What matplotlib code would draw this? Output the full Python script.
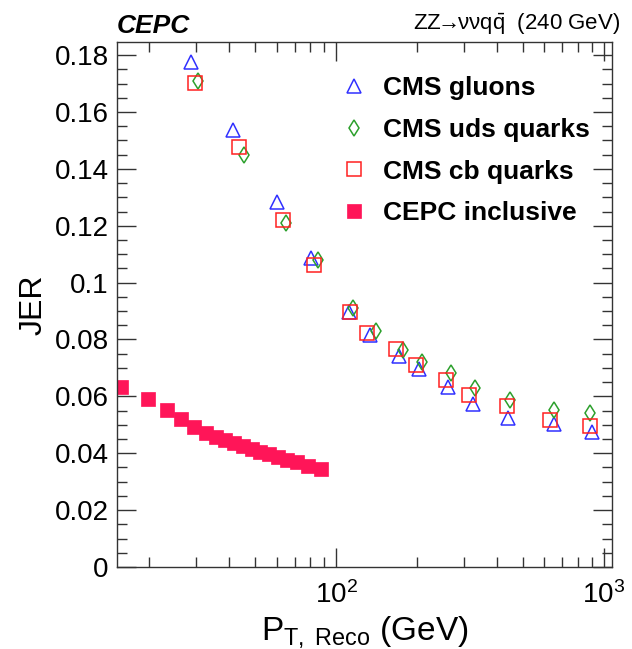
import numpy as np
import matplotlib
matplotlib.use("Agg")
import matplotlib.pyplot as plt
from matplotlib.ticker import MultipleLocator, LogLocator, NullFormatter

plt.rcParams['font.family'] = ['Liberation Sans', 'DejaVu Sans']
plt.rcParams['mathtext.fontset'] = 'custom'
plt.rcParams['mathtext.rm'] = 'Liberation Sans'
plt.rcParams['mathtext.it'] = 'Liberation Sans:italic'
plt.rcParams['mathtext.bf'] = 'Liberation Sans:bold'

# CMS gluons
glu_pt = [28.8, 41.3, 60.1, 80.9, 112, 134, 172, 204, 262, 324, 440, 653, 900]
glu_jer = [0.1777, 0.1538, 0.1285, 0.1086, 0.0896, 0.0816, 0.0741, 0.0696,
           0.0634, 0.0573, 0.0525, 0.0503, 0.0474]

# CMS uds quarks
uds_pt = [30.4, 45.5, 65.1, 85.9, 116, 140.6, 177.4, 209.4, 268, 329, 445.6, 650, 891]
uds_jer = [0.1708, 0.1449, 0.1209, 0.1079, 0.0910, 0.0831, 0.0763, 0.0722,
           0.0681, 0.0628, 0.0587, 0.0552, 0.0543]

# CMS cb quarks
cb_pt = [29.7, 43.4, 63.2, 82.8, 112.8, 130.2, 167, 198.9, 256.4, 314, 435.6, 631, 887]
cb_jer = [0.1701, 0.1478, 0.1220, 0.1061, 0.0898, 0.0822, 0.0767, 0.0710,
          0.0658, 0.0605, 0.0567, 0.0517, 0.0497]

# CEPC inclusive
cepc_pt = [15.8, 19.9, 23.3, 26.4, 29.5, 32.6, 35.6, 38.5, 41.6, 45.0, 48.5,
           52.2, 56.0, 60.5, 65.5, 71.5, 78.5, 88.0]
cepc_jer = [0.0634, 0.0591, 0.0553, 0.0521, 0.0494, 0.0470, 0.0457, 0.0447,
            0.0436, 0.0427, 0.0415, 0.0405, 0.0398, 0.0388, 0.0378, 0.0368,
            0.0356, 0.0344]

fig = plt.figure(figsize=(6.32, 6.49), dpi=100)
ax = fig.add_axes([0.185, 0.1263, 0.783, 0.809])

ax.plot(glu_pt, glu_jer, linestyle='none', marker='^', ms=10, mfc='none',
        mec='#3030ff', mew=1.1, label='CMS gluons')
ax.plot(uds_pt, uds_jer, linestyle='none', marker='d', ms=8, mfc='none',
        mec='#2ca02c', mew=1.1, label='CMS uds quarks')
ax.plot(cb_pt, cb_jer, linestyle='none', marker='s', ms=10, mfc='none',
        mec='#ff2020', mew=1.1, label='CMS cb quarks')
ax.plot(cepc_pt, cepc_jer, linestyle='none', marker='s', ms=9.5, mfc='#ff1558',
        mec='#ff1558', mew=0.5, label='CEPC inclusive')

ax.set_xscale('log')
ax.set_xlim(15.2, 1070)
ax.set_ylim(0, 0.1846)
ax.yaxis.set_minor_locator(MultipleLocator(0.005))
ax.set_yticks([0, 0.02, 0.04, 0.06, 0.08, 0.1, 0.12, 0.14, 0.16, 0.18])
ax.set_yticklabels(['0', '0.02', '0.04', '0.06', '0.08', '0.1', '0.12', '0.14', '0.16', '0.18'])
ax.xaxis.set_minor_locator(LogLocator(base=10, subs=np.arange(2, 10)))
ax.xaxis.set_minor_formatter(NullFormatter())

ax.tick_params(which='both', direction='in', top=True, right=True,
               labelsize=20, width=1.0, color='#333333')
ax.tick_params(which='major', length=14, pad=6)
ax.tick_params(axis='x', which='major', pad=10)
ax.tick_params(which='minor', length=7)
for s in ax.spines.values():
    s.set_linewidth(1.0)
    s.set_color('#333333')

ax.set_ylabel('JER', fontsize=23)
ax.set_xlabel(r'P$_{\mathrm{T,\ Reco}}$ (GeV)', fontsize=24)

leg = ax.legend(loc='upper left', bbox_to_anchor=(0.425, 0.96), frameon=False,
                prop={'weight': 'bold', 'size': 19}, handlelength=1.0,
                handletextpad=0.6, labelspacing=0.67, borderpad=0)

fig.text(0.185, 0.949, 'CEPC', fontsize=19, fontweight='bold', style='italic',
         ha='left', va='baseline')
fig.text(0.981, 0.954, r'ZZ$\!\!\rightarrow\!\!$ννq$\bar{\mathrm{q}}$  (240 GeV)',
         fontsize=16, ha='right', va='baseline')

fig.savefig('out.png', dpi=100)
